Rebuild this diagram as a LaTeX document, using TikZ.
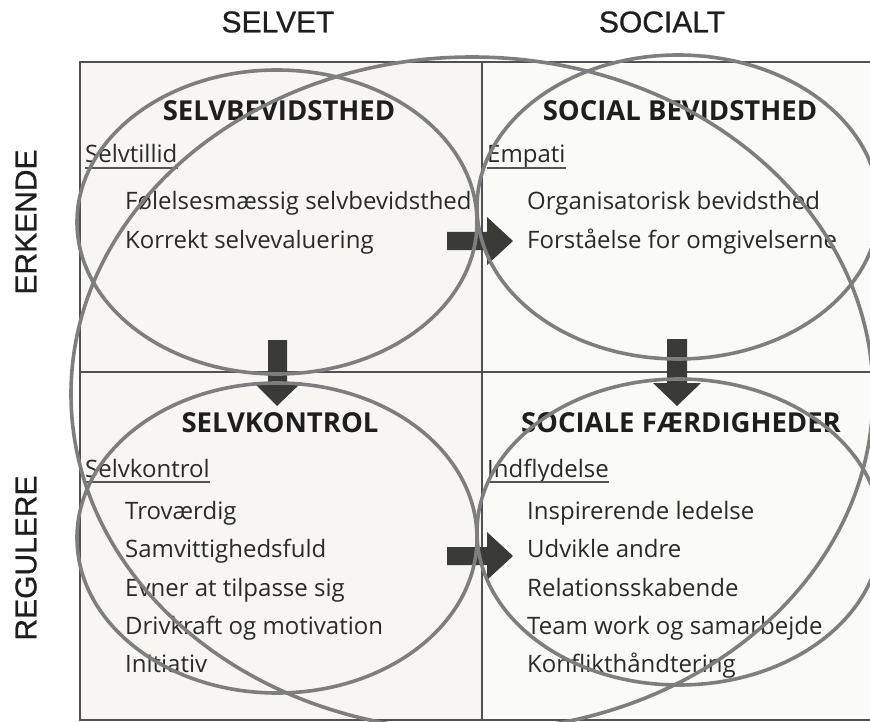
\documentclass[tikz,border=0pt]{standalone}
\usepackage{fontspec}
\setmainfont{Open Sans}
\newfontface\axisfont{Liberation Sans}[FakeBold=0.8]
\definecolor{cellL}{HTML}{F7F6F2}
\definecolor{cellR}{HTML}{FAFAF7}
\definecolor{gridc}{HTML}{505050}
\definecolor{ringc}{HTML}{7E7E7E}
\definecolor{arrowc}{HTML}{3A3A36}
\definecolor{inkc}{HTML}{1E1E1E}
\definecolor{itemc}{HTML}{2A2A2A}
\begin{document}
\begin{tikzpicture}[x=1pt,y=-1pt,
  axislabel/.style={font=\axisfont\fontsize{30}{30}\selectfont, text=inkc, inner sep=0pt},
  heading/.style={font=\bfseries\fontsize{27.5}{31}\selectfont, text=inkc, inner sep=0pt, anchor=base},
  category/.style={font=\fontsize{24}{28}\selectfont, text=itemc, inner sep=0pt, anchor=base west},
  item/.style={font=\fontsize{24}{28}\selectfont, text=itemc, inner sep=0pt, anchor=base west},
  gridline/.style={draw=gridc, line width=1.5pt},
  ring/.style={draw=ringc, line width=3.6pt},
  blockarrow/.style={fill=arrowc},
  uline/.style={draw=itemc!80, line width=1.1pt}]
\useasboundingbox (0,0) rectangle (870,722);
\clip (0,0) rectangle (870,722);
\fill[white] (0,0) rectangle (870,722);

% quadrant backgrounds
\fill[cellL] (80,62) rectangle (482,720);
\fill[cellR] (482,62) rectangle (900,720);

% grid
\draw[gridline] (80,62) rectangle (900,720);
\draw[gridline] (482,62) -- (482,720);
\draw[gridline] (80,372) -- (900,372);

% column and row titles
\node[axislabel] (selvet) at (278,22) {SELVET};
\node[axislabel] (socialt) at (662,22) {SOCIALT};
\node[axislabel, rotate=90] (erkende) at (26,222) {ERKENDE};
\node[axislabel, rotate=90] (regulere) at (26,558) {REGULERE};

% block arrows
\fill[blockarrow] (447,232) -- (487,232) -- (487,217) -- (513,241) -- (487,265) -- (487,250) -- (447,250) -- cycle;
\fill[blockarrow] (447,547) -- (487,547) -- (487,532) -- (513,556) -- (487,580) -- (487,565) -- (447,565) -- cycle;
\fill[blockarrow] (268,340) -- (268,382) -- (253,382) -- (277,406) -- (302,382) -- (287,382) -- (287,340) -- cycle;
\fill[blockarrow] (667,339) -- (667,383) -- (653,383) -- (677,406) -- (701,383) -- (687,383) -- (687,339) -- cycle;

% top left: self-awareness
\node[heading] (h1) at (279,121) {SELVBEVIDSTHED};
\node[category] (c1) at (85,163) {Selvtillid};
\node[item] (i11) at (125,210) {Følelsesmæssig selvbevidsthed};
\node[item] (i12) at (125,248) {Korrekt selvevaluering};

% top right: social awareness
\node[heading] (h2) at (680,121) {SOCIAL BEVIDSTHED};
\node[category] (c2) at (487,163) {Empati};
\node[item] (i21) at (527,210) {Organisatorisk bevidsthed};
\node[item] (i22) at (527,248) {Forståelse for omgivelserne};

% bottom left: self-management
\node[heading] (h3) at (280,432) {SELVKONTROL};
\node[category] (c3) at (85,477) {Selvkontrol};
\node[item] (i31) at (125,519) {Troværdig};
\node[item] (i32) at (125,557) {Samvittighedsfuld};
\node[item] (i33) at (125,596) {Evner at tilpasse sig};
\node[item] (i34) at (125,634) {Drivkraft og motivation};
\node[item] (i35) at (125,672) {Initiativ};

% bottom right: social skills
\node[heading] (h4) at (681,432) {SOCIALE FÆRDIGHEDER};
\node[category] (c4) at (487,477) {Indflydelse};
\node[item] (i41) at (527,519) {Inspirerende ledelse};
\node[item] (i42) at (527,557) {Udvikle andre};
\node[item] (i43) at (527,596) {Relationsskabende};
\node[item] (i44) at (527,634) {Team work og samarbejde};
\node[item] (i45) at (527,672) {Konflikthåndtering};

% underlined category names
\foreach \c in {c1,c2,c3,c4}
  \draw[uline] ([yshift=-5pt]\c.base west) -- ([yshift=-5pt]\c.base east);

% rings around the quadrants and the whole field
\draw[ring] (277,222) ellipse [x radius=200, y radius=152];
\draw[ring] (678,207) ellipse [x radius=201, y radius=152];
\draw[ring] (277,538) ellipse [x radius=200, y radius=155];
\draw[ring] (679,532) ellipse [x radius=202, y radius=153];
\draw[ring] (472,394) ellipse [x radius=401, y radius=337];
\end{tikzpicture}
\end{document}
